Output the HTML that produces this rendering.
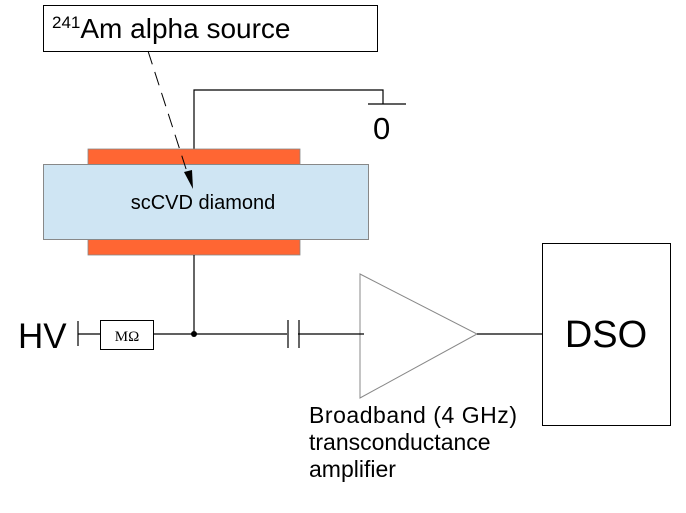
<!DOCTYPE html>
<html><head><style>body{margin:0;background:#fff}svg{display:block}</style></head>
<body>
<svg width="686" height="513" viewBox="0 0 686 513" xmlns="http://www.w3.org/2000/svg" font-family="Liberation Sans, sans-serif">
<rect x="43.5" y="5.5" width="334" height="46" fill="#fff" stroke="#000"/>
<text x="52" y="38" font-size="28"><tspan font-size="17" dy="-10">241</tspan><tspan dy="10">Am alpha source</tspan></text>
<path d="M194 255V90H383V104M368 104H406" fill="none" stroke="#000" stroke-width="1.2"/>
<text x="373" y="139" font-size="31">0</text>
<rect x="88" y="149" width="212" height="16" fill="#ff6633" stroke="#888" stroke-width="0.8"/>
<rect x="88" y="239" width="212" height="16" fill="#ff6633" stroke="#888" stroke-width="0.8"/>
<rect x="43.5" y="164.5" width="325" height="75" fill="#cfe5f3" stroke="#888"/>
<text x="203" y="209" font-size="20" text-anchor="middle">scCVD diamond</text>
<line x1="148" y1="51" x2="188" y2="175" stroke="#000" stroke-dasharray="14,8"/>
<polygon points="193,189 184,172 192,170" fill="#000"/>
<polygon points="360,274 477,334 360,398" fill="#fff" stroke="#888"/>
<path d="M194 255V334M78 321V346M78 334H101M154 334H287M298 334H364M477 334H542" fill="none" stroke="#000" stroke-width="1.2"/>
<path d="M288 320V348M299 320V348" stroke="#000" stroke-width="1.2"/>
<circle cx="194" cy="334" r="3" fill="#000"/>
<rect x="100.5" y="320.5" width="53" height="29" fill="#fff" stroke="#000"/>
<text x="127" y="341" font-size="15" text-anchor="middle" font-family="Liberation Serif, serif">MΩ</text>
<text x="18" y="348" font-size="35">HV</text>
<rect x="542.5" y="243.5" width="128" height="182" fill="#fff" stroke="#000"/>
<text x="606" y="347" font-size="38" text-anchor="middle">DSO</text>
<text font-size="23"><tspan x="309" y="423" textLength="208">Broadband (4 GHz)</tspan><tspan x="309" y="450">transconductance</tspan><tspan x="309" y="477">amplifier</tspan></text>
</svg>
</body></html>
